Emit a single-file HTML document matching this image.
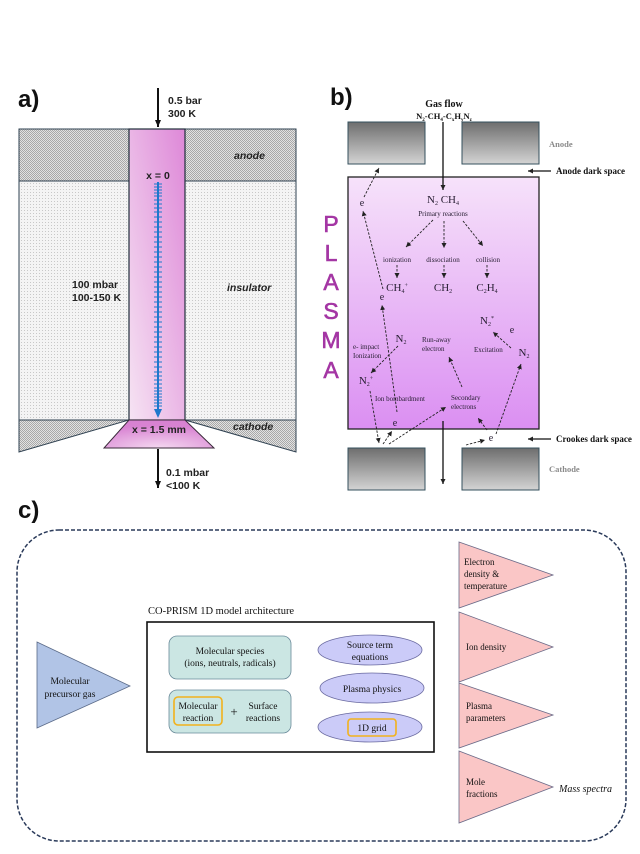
<!DOCTYPE html>
<html><head><meta charset="utf-8"><style>
html,body{margin:0;padding:0;background:#fff;}
svg{display:block;}
.a{font-family:"Liberation Sans",sans-serif;font-weight:bold;font-size:10.5px;fill:#222;}
.s{font-family:"Liberation Serif",serif;fill:#2a2035;}
.c{font-family:"Liberation Serif",serif;fill:#111;}
</style></head><body>
<svg width="640" height="854" viewBox="0 0 640 854" xmlns="http://www.w3.org/2000/svg">
<defs>
<pattern id="hd" width="2" height="2" patternUnits="userSpaceOnUse"><rect width="2" height="2" fill="#e2e2e2"/><rect width="1" height="1" fill="#a8a8a8"/><rect x="1" y="1" width="1" height="1" fill="#a8a8a8"/></pattern>
<pattern id="hl" width="3" height="3" patternUnits="userSpaceOnUse"><rect width="3" height="3" fill="#f4f4f4"/><rect width="1" height="1" fill="#c8c8c8"/></pattern>
<linearGradient id="pk" x1="0" y1="1" x2="1" y2="0"><stop offset="0" stop-color="#f6e4f3"/><stop offset="1" stop-color="#de88d8"/></linearGradient>
<radialGradient id="pk2" cx="0.5" cy="1" r="0.8"><stop offset="0" stop-color="#f4d8f0"/><stop offset="1" stop-color="#d882d2"/></radialGradient>
<linearGradient id="pl" x1="0" y1="0" x2="0" y2="1"><stop offset="0" stop-color="#f6e2fa"/><stop offset="1" stop-color="#db8ff2"/></linearGradient>
<linearGradient id="gb" x1="0" y1="0" x2="0" y2="1"><stop offset="0" stop-color="#6e6e6e"/><stop offset="1" stop-color="#d4d4d4"/></linearGradient>
<marker id="ar" markerWidth="8" markerHeight="8" refX="7" refY="4" orient="auto" markerUnits="userSpaceOnUse"><path d="M0,1 L7,4 L0,7 z" fill="#111"/></marker>
<marker id="as" markerWidth="6" markerHeight="6" refX="5" refY="3" orient="auto" markerUnits="userSpaceOnUse"><path d="M0,0.5 L5,3 L0,5.5 z" fill="#222"/></marker>
</defs>

<!-- panel a -->
<text x="18" y="107" font-family="Liberation Sans" font-weight="bold" font-size="24" fill="#111">a)</text>
<line x1="158" y1="88" x2="158" y2="127" stroke="#111" stroke-width="2" marker-end="url(#ar)"/>
<text class="a" x="168" y="104">0.5 bar</text>
<text class="a" x="168" y="117">300 K</text>
<rect x="19" y="129" width="277" height="52" fill="url(#hd)" stroke="#2e4050" stroke-width="1"/>
<rect x="19" y="181" width="277" height="239" fill="url(#hl)" stroke="#2e4050" stroke-width="1"/>
<polygon points="19,420 129,420 19,452" fill="url(#hd)" stroke="#2e4050" stroke-width="1"/>
<polygon points="185,420 296,420 296,452" fill="url(#hd)" stroke="#2e4050" stroke-width="1"/>
<rect x="129" y="129" width="56" height="291" fill="url(#pk)" stroke="#1e2e3a" stroke-width="1.2"/>
<polygon points="129,420 185,420 214,448 104,448" fill="url(#pk2)" stroke="#3a2a3a" stroke-width="1"/>
<text class="a" x="234" y="159" font-style="italic">anode</text>
<text class="a" x="227" y="291" font-style="italic">insulator</text>
<text class="a" x="233" y="430" font-style="italic">cathode</text>
<text class="a" x="72" y="288">100 mbar</text>
<text class="a" x="72" y="301">100-150 K</text>
<text class="a" x="158" y="179" text-anchor="middle">x = 0</text>
<text class="a" x="159" y="433" text-anchor="middle">x = 1.5 mm</text>
<line x1="158" y1="182" x2="158" y2="410" stroke="#1e78cc" stroke-width="2"/>
<polygon points="154,409 162,409 158,418" fill="#1e78cc"/>
<g stroke="#1e78cc" stroke-width="1">
<path d="M154,184h8M154,187h8M154,190h8M154,193h8M154,196h8M154,200h8M154,204h8M154,208h8M154,212h8M154,217h8M154,222h8M154,227h8M154,232h8M154,237h8M154,242h8M154,247h8M154,252h8M154,257h8M154,262h8M154,267h8M154,272h8M154,277h8M154,282h8M154,287h8M154,292h8M154,297h8M154,302h8M154,307h8M154,312h8M154,317h8M154,322h8M154,327h8M154,332h8M154,337h8M154,342h8M154,347h8M154,352h8M154,357h8M154,362h8M154,367h8M154,372h8M154,376h8M154,380h8M154,384h8M154,388h8M154,391h8M154,394h8M154,397h8M154,400h8M154,403h8M154,406h8"/>
</g>
<line x1="158" y1="449" x2="158" y2="488" stroke="#111" stroke-width="2" marker-end="url(#ar)"/>
<text class="a" x="166" y="476">0.1 mbar</text>
<text class="a" x="166" y="489">&lt;100 K</text>

<!-- panel b -->
<text x="330" y="105" font-family="Liberation Sans" font-weight="bold" font-size="24" fill="#111">b)</text>
<text class="c" x="444" y="107" text-anchor="middle" font-size="10" font-weight="bold">Gas flow</text>
<text class="c" x="444" y="119" text-anchor="middle" font-size="8.5" font-weight="bold">N<tspan font-size="5" dy="2">2</tspan><tspan dy="-2">-CH</tspan><tspan font-size="5" dy="2">4</tspan><tspan dy="-2">-C</tspan><tspan font-size="5" dy="2">x</tspan><tspan dy="-2">H</tspan><tspan font-size="5" dy="2">y</tspan><tspan dy="-2">N</tspan><tspan font-size="5" dy="2">z</tspan></text>
<rect x="348" y="122" width="77" height="42" fill="url(#gb)" stroke="#35505e" stroke-width="1"/>
<rect x="462" y="122" width="77" height="42" fill="url(#gb)" stroke="#35505e" stroke-width="1"/>
<rect x="348" y="448" width="77" height="42" fill="url(#gb)" stroke="#35505e" stroke-width="1"/>
<rect x="462" y="448" width="77" height="42" fill="url(#gb)" stroke="#35505e" stroke-width="1"/>
<text class="c" x="549" y="147" font-size="8.5" font-weight="bold" style="fill:#8a8a8a">Anode</text>
<text class="c" x="549" y="472" font-size="8.5" font-weight="bold" style="fill:#8a8a8a">Cathode</text>
<line x1="551" y1="171" x2="528" y2="171" stroke="#111" stroke-width="1.3" marker-end="url(#as)"/>
<text class="c" x="556" y="174" font-size="9" font-weight="bold">Anode dark space</text>
<line x1="551" y1="439" x2="528" y2="439" stroke="#111" stroke-width="1.3" marker-end="url(#as)"/>
<text class="c" x="556" y="442" font-size="9" font-weight="bold">Crookes dark space</text>
<rect x="348" y="177" width="191" height="252" fill="url(#pl)" stroke="#222" stroke-width="1.3"/>
<line x1="443" y1="122" x2="443" y2="190" stroke="#111" stroke-width="1.3" marker-end="url(#as)"/>
<line x1="443" y1="421" x2="443" y2="484" stroke="#111" stroke-width="1.3" marker-end="url(#as)"/>
<g font-family="Liberation Sans" font-size="23" fill="#a436a4" text-anchor="middle" stroke="#a436a4" stroke-width="0.6">
<text x="331" y="232">P</text><text x="331" y="261">L</text><text x="331" y="290">A</text><text x="331" y="319">S</text><text x="331" y="348">M</text><text x="331" y="378">A</text>
</g>
<g class="s">
<text x="443" y="203" font-size="11" text-anchor="middle" class="s">N<tspan font-size="6" dy="2">2</tspan><tspan dy="-2">  CH</tspan><tspan font-size="6" dy="2">4</tspan></text>
<text x="443" y="216" font-size="7" text-anchor="middle" class="s">Primary reactions</text>
<text x="397" y="262" font-size="7" text-anchor="middle" class="s">ionization</text>
<text x="443" y="262" font-size="7" text-anchor="middle" class="s">dissociation</text>
<text x="488" y="262" font-size="7" text-anchor="middle" class="s">collision</text>
<text x="397" y="291" font-size="11" text-anchor="middle" class="s">CH<tspan font-size="6" dy="2">4</tspan><tspan font-size="6" dy="-6">+</tspan></text>
<text x="443" y="291" font-size="11" text-anchor="middle" class="s">CH<tspan font-size="6" dy="2">2</tspan></text>
<text x="487" y="291" font-size="11" text-anchor="middle" class="s">C<tspan font-size="6" dy="2">2</tspan><tspan dy="-2">H</tspan><tspan font-size="6" dy="2">4</tspan></text>
<text x="362" y="206" font-size="10" text-anchor="middle" class="s">e</text>
<text x="382" y="300" font-size="10" text-anchor="middle" class="s">e</text>
<text x="395" y="426" font-size="10" text-anchor="middle" class="s">e</text>
<text x="491" y="441" font-size="10" text-anchor="middle" class="s">e</text>
<text x="512" y="333" font-size="10" text-anchor="middle" class="s">e</text>
<text x="401" y="342" font-size="11" text-anchor="middle" class="s">N<tspan font-size="6" dy="2">2</tspan></text>
<text x="524" y="356" font-size="11" text-anchor="middle" class="s">N<tspan font-size="6" dy="2">2</tspan></text>
<text x="366" y="384" font-size="11" text-anchor="middle" class="s">N<tspan font-size="6" dy="2">2</tspan><tspan font-size="6" dy="-6">+</tspan></text>
<text x="487" y="324" font-size="11" text-anchor="middle" class="s">N<tspan font-size="6" dy="2">2</tspan><tspan font-size="6" dy="-6">*</tspan></text>
<text x="353" y="349" font-size="7" class="s">e- impact</text>
<text x="353" y="358" font-size="7" class="s">Ionization</text>
<text x="422" y="342" font-size="7" class="s">Run-away</text>
<text x="422" y="351" font-size="7" class="s">electron</text>
<text x="474" y="352" font-size="7" class="s">Excitation</text>
<text x="375" y="401" font-size="7" class="s">Ion bombardment</text>
<text x="451" y="400" font-size="7" class="s">Secondary</text>
<text x="451" y="409" font-size="7" class="s">electrons</text>
</g>
<g stroke="#222" stroke-width="0.9" stroke-dasharray="2.5,1.5" fill="none">
<line x1="433" y1="220" x2="406" y2="247" marker-end="url(#as)"/>
<line x1="444" y1="221" x2="444" y2="248" marker-end="url(#as)"/>
<line x1="463" y1="221" x2="483" y2="246" marker-end="url(#as)"/>
<line x1="397" y1="265" x2="397" y2="278" marker-end="url(#as)"/>
<line x1="444" y1="265" x2="444" y2="278" marker-end="url(#as)"/>
<line x1="487" y1="265" x2="487" y2="278" marker-end="url(#as)"/>
<line x1="364" y1="197" x2="379" y2="168" marker-end="url(#as)"/>
<line x1="383" y1="289" x2="363" y2="211" marker-end="url(#as)"/>
<line x1="397" y1="412" x2="382" y2="305" marker-end="url(#as)"/>
<line x1="398" y1="346" x2="371" y2="373" marker-end="url(#as)"/>
<line x1="370" y1="391" x2="379" y2="443" marker-end="url(#as)"/>
<line x1="383" y1="444" x2="392" y2="431" marker-end="url(#as)"/>
<line x1="389" y1="444" x2="446" y2="407" marker-end="url(#as)"/>
<line x1="462" y1="387" x2="449" y2="357" marker-end="url(#as)"/>
<line x1="487" y1="430" x2="478" y2="418" marker-end="url(#as)"/>
<line x1="466" y1="445" x2="485" y2="440" marker-end="url(#as)"/>
<line x1="496" y1="434" x2="521" y2="364" marker-end="url(#as)"/>
<line x1="511" y1="348" x2="493" y2="332" marker-end="url(#as)"/>
</g>

<!-- panel c -->
<text x="18" y="518" font-family="Liberation Sans" font-weight="bold" font-size="24" fill="#111">c)</text>
<rect x="17" y="530" width="609" height="311" rx="42" ry="42" fill="none" stroke="#2a3a5a" stroke-width="1.5" stroke-dasharray="4,2"/>
<polygon points="37,642 130,686 37,728" fill="#b1c4e6" stroke="#5a6a88" stroke-width="0.8"/>
<text class="c" x="70" y="684" font-size="9.5" text-anchor="middle">Molecular</text>
<text class="c" x="70" y="697" font-size="9.5" text-anchor="middle">precursor gas</text>
<text class="c" x="148" y="614" font-size="10.5">CO-PRISM 1D model architecture</text>
<rect x="147" y="622" width="287" height="130" fill="#fff" stroke="#111" stroke-width="1.6"/>
<rect x="169" y="636" width="122" height="43" rx="8" fill="#cbe6e3" stroke="#6a8a9a" stroke-width="0.8"/>
<text class="c" x="230" y="654" font-size="9.5" text-anchor="middle">Molecular species</text>
<text class="c" x="230" y="666" font-size="9.5" text-anchor="middle">(ions, neutrals, radicals)</text>
<rect x="169" y="690" width="122" height="43" rx="8" fill="#cbe6e3" stroke="#6a8a9a" stroke-width="0.8"/>
<rect x="174" y="697" width="48" height="28" rx="4" fill="none" stroke="#f2b21c" stroke-width="1.6"/>
<text class="c" x="198" y="709" font-size="9.5" text-anchor="middle">Molecular</text>
<text class="c" x="198" y="721" font-size="9.5" text-anchor="middle">reaction</text>
<text class="c" x="234" y="716" font-size="13" text-anchor="middle">+</text>
<text class="c" x="263" y="709" font-size="9.5" text-anchor="middle">Surface</text>
<text class="c" x="263" y="721" font-size="9.5" text-anchor="middle">reactions</text>
<ellipse cx="370" cy="650" rx="52" ry="15" fill="#cbcbf8" stroke="#6a6aa0" stroke-width="0.8"/>
<text class="c" x="370" y="648" font-size="9.5" text-anchor="middle">Source term</text>
<text class="c" x="370" y="660" font-size="9.5" text-anchor="middle">equations</text>
<ellipse cx="372" cy="688" rx="52" ry="15" fill="#cbcbf8" stroke="#6a6aa0" stroke-width="0.8"/>
<text class="c" x="372" y="692" font-size="9.5" text-anchor="middle">Plasma physics</text>
<ellipse cx="370" cy="727" rx="52" ry="15" fill="#cbcbf8" stroke="#6a6aa0" stroke-width="0.8"/>
<rect x="348" y="719" width="48" height="17" rx="3" fill="none" stroke="#f2b21c" stroke-width="1.6"/>
<text class="c" x="372" y="731" font-size="9.5" text-anchor="middle">1D grid</text>
<g fill="#fac6c6" stroke="#6a6a88" stroke-width="0.8">
<polygon points="459,542 553,575 459,608"/>
<polygon points="459,612 553,647 459,682"/>
<polygon points="459,683 553,715 459,748"/>
<polygon points="459,751 553,787 459,823"/>
</g>
<g class="c" font-size="9">
<text x="464" y="565">Electron</text><text x="464" y="577">density &amp;</text><text x="464" y="589">temperature</text>
<text x="466" y="650">Ion density</text>
<text x="466" y="709">Plasma</text><text x="466" y="721">parameters</text>
<text x="466" y="785">Mole</text><text x="466" y="797">fractions</text>
</g>
<text class="c" x="559" y="792" font-size="10" font-style="italic">Mass spectra</text>
</svg>
</body></html>
